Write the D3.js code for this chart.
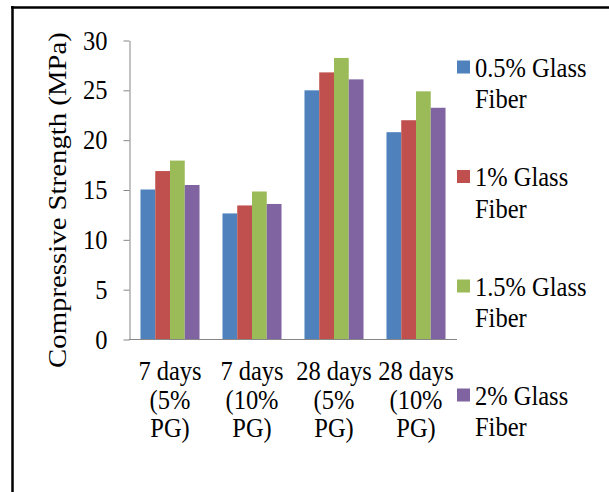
<!DOCTYPE html>
<html>
<head>
<meta charset="utf-8">
<script src="https://cdn.jsdelivr.net/npm/d3@7"></script>
<style>
  body { margin: 0; background: #ffffff; }
  svg text { font-family: "Liberation Serif", Tinos, "Times New Roman", Times, "DejaVu Serif", serif; fill: #000000; }
</style>
</head>
<body>
<svg id="chart"></svg>
<script>
var categories = [
  ["7 days", "(5%", "PG)"],
  ["7 days", "(10%", "PG)"],
  ["28 days", "(5%", "PG)"],
  ["28 days", "(10%", "PG)"]
];
var seriesNames = ["0.5% Glass Fiber", "1% Glass Fiber", "1.5% Glass Fiber", "2% Glass Fiber"];
var legendLines = [["0.5% Glass", "Fiber"], ["1% Glass", "Fiber"], ["1.5% Glass", "Fiber"], ["2% Glass", "Fiber"]];
var glass05 = [15.05, 12.65, 25.0, 20.8];
var glass1 = [16.9, 13.45, 26.8, 22.0];
var glass15 = [17.95, 14.85, 28.25, 24.9];
var glass2 = [15.5, 13.6, 26.1, 23.25];
var yTicks = [0, 5, 10, 15, 20, 25, 30];
var colors = ["#4f81bd", "#c0504d", "#9bbb59", "#8064a2"];

var seriesValues = [glass05, glass1, glass15, glass2];

var width = 609, height = 492;
var fontSize = 24.5, stretch = 1.13;
var serif = "'Liberation Serif', Tinos, 'Times New Roman', Times, 'DejaVu Serif', serif";

var svg = d3.select("#chart")
            .attr("width", width)
            .attr("height", height)
            .attr("font-family", serif);

// outer frame (top and left edges only show in the picture)
svg.append("line")
   .attr("x1", 11).attr("x2", 609)
   .attr("y1", 7.5).attr("y2", 7.5)
   .attr("stroke", "#000").attr("stroke-width", 2.5);
svg.append("line")
   .attr("x1", 12.5).attr("x2", 12.5)
   .attr("y1", 6).attr("y2", 492)
   .attr("stroke", "#000").attr("stroke-width", 2.5);

var x0 = d3.scaleBand()
           .domain(d3.range(categories.length))
           .range([129, 457])
           .paddingInner(0.28)
           .paddingOuter(0.14);

var x1 = d3.scaleBand()
           .domain(d3.range(seriesNames.length))
           .range([0, x0.bandwidth()]);

var y = d3.scaleLinear()
          .domain([0, 30])
          .range([339.5, 40.5]);

// bars
var groups = svg.selectAll(".group")
  .data(categories)
  .enter()
  .append("g")
    .classed("group", true)
    .attr("transform", function(d, i) { return "translate(" + x0(i) + ",0)"; });

groups.selectAll("rect")
  .data(function(d, i) { return seriesValues.map(function(s, j) { return { s: j, v: s[i] }; }); })
  .enter()
  .append("rect")
    .attr("x", function(d) { return x1(d.s); })
    .attr("width", x1.bandwidth())
    .attr("y", function(d) { return y(d.v); })
    .attr("height", function(d) { return y(0) - y(d.v); })
    .attr("fill", function(d) { return colors[d.s]; });

// y axis
var yAxis = svg.append("g")
  .attr("transform", "translate(129.5,0)")
  .call(d3.axisLeft(y).tickValues(yTicks).tickSize(6).tickSizeOuter(0).tickFormat(d3.format("d")));
yAxis.select(".domain").attr("stroke", "#868686");
yAxis.selectAll(".tick line").attr("stroke", "#868686");
yAxis.selectAll(".tick text").remove();

// y tick labels, drawn by hand so they can be stretched like the picture
svg.selectAll(".ylabel")
  .data(yTicks)
  .enter()
  .append("text")
    .classed("ylabel", true)
    .attr("transform", function(d) { return "translate(107.5," + (y(d) + 9) + ") scale(1," + stretch + ")"; })
    .attr("text-anchor", "end")
    .attr("font-size", fontSize)
    .text(function(d) { return d; });

// x axis line
svg.append("line")
   .attr("x1", 129).attr("x2", 457)
   .attr("y1", y(0)).attr("y2", y(0))
   .attr("stroke", "#868686");

// x labels, three lines each
var lineY = [380, 408.5, 437];
categories.forEach(function(cat, i) {
  svg.selectAll(".xl" + i)
    .data(cat)
    .enter()
    .append("text")
      .attr("transform", function(d, k) {
        return "translate(" + (x0(i) + x0.bandwidth() / 2) + "," + lineY[k] + ") scale(1," + stretch + ")";
      })
      .attr("text-anchor", "middle")
      .attr("font-size", fontSize)
      .text(function(d) { return d; });
});

// y axis title
svg.append("text")
   .attr("transform", "translate(66,200) rotate(-90) scale(" + stretch + ",1)")
   .attr("text-anchor", "middle")
   .attr("font-size", 25.5)
   .text("Compressive Strength (MPa)");

// legend
var legendY = [67, 176.5, 286, 395];
var legend = svg.selectAll(".legend")
  .data(seriesNames)
  .enter()
  .append("g")
    .classed("legend", true)
    .attr("transform", function(d, i) { return "translate(457," + legendY[i] + ")"; });

legend.append("rect")
  .attr("x", 0)
  .attr("y", -6.5)
  .attr("width", 13)
  .attr("height", 13)
  .attr("fill", function(d, i) { return colors[i]; });

legend.each(function(d, i) {
  d3.select(this).selectAll("text")
    .data(legendLines[i])
    .enter()
    .append("text")
      .attr("transform", function(t, k) { return "translate(18," + (9.5 + k * 31.5) + ") scale(1," + stretch + ")"; })
      .attr("font-size", fontSize)
      .text(function(t) { return t; });
});
</script>
</body>
</html>
